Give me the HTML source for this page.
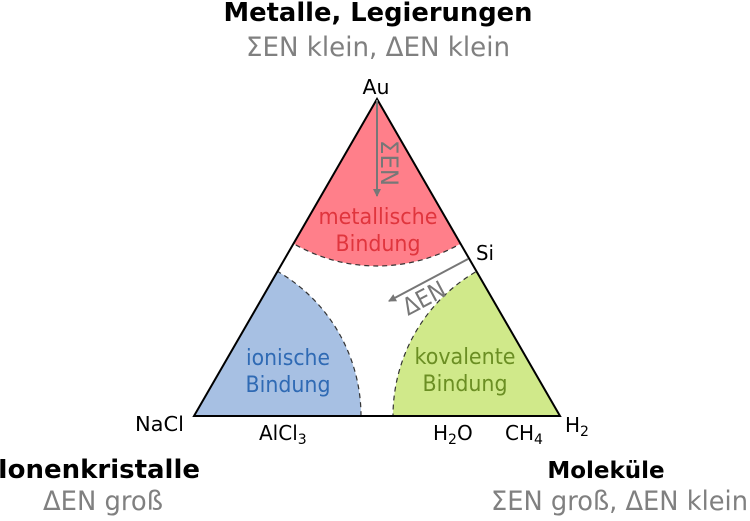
<!DOCTYPE html>
<html><head><style>html,body{margin:0;padding:0;background:#fff;overflow:hidden;width:750px;height:521px}svg{display:block}</style></head><body>
<svg width="750" height="521" viewBox="0 0 750 521" xmlns="http://www.w3.org/2000/svg" font-family="DejaVu Sans, Liberation Sans, sans-serif">
<defs>
<clipPath id="tri"><polygon points="377,99 194,416 560,416"/></clipPath>
<marker id="ah" markerWidth="8" markerHeight="8" refX="7" refY="4" orient="auto" markerUnits="userSpaceOnUse"><path d="M0,0 L8,4 L0,8 Z" fill="#777"/></marker>
</defs>
<g clip-path="url(#tri)">
<circle cx="377" cy="99" r="167" fill="#ff7f8a"/>
<circle cx="194" cy="416" r="167" fill="#a7c0e3"/>
<circle cx="560" cy="416" r="167" fill="#d0e98a"/>
<circle cx="377" cy="99" r="167" fill="none" stroke="#333" stroke-width="1.2" stroke-dasharray="5,4"/>
<circle cx="194" cy="416" r="167" fill="none" stroke="#333" stroke-width="1.2" stroke-dasharray="5,4"/>
<circle cx="560" cy="416" r="167" fill="none" stroke="#333" stroke-width="1.2" stroke-dasharray="5,4"/>
</g>
<polygon points="377,99 194,416 560,416" fill="none" stroke="#000" stroke-width="2"/>
<line x1="377" y1="100" x2="377" y2="196" stroke="#777" stroke-width="2" marker-end="url(#ah)"/>
<text transform="translate(381,140) rotate(90)" font-size="24" fill="#777" textLength="46" lengthAdjust="spacingAndGlyphs">ΣEN</text>
<line x1="468" y1="259" x2="389" y2="301" stroke="#777" stroke-width="2" marker-end="url(#ah)"/>
<text transform="translate(408,316) rotate(-28)" font-size="24" fill="#777" textLength="45" lengthAdjust="spacingAndGlyphs">ΔEN</text>
<text x="378" y="224" font-size="22" fill="#e0353d" text-anchor="middle" textLength="119" lengthAdjust="spacingAndGlyphs">metallische</text>
<text x="378" y="251" font-size="22" fill="#e0353d" text-anchor="middle" textLength="85" lengthAdjust="spacingAndGlyphs">Bindung</text>
<text x="288" y="365" font-size="22" fill="#2f6ab4" text-anchor="middle" textLength="84" lengthAdjust="spacingAndGlyphs">ionische</text>
<text x="288" y="392" font-size="22" fill="#2f6ab4" text-anchor="middle" textLength="85" lengthAdjust="spacingAndGlyphs">Bindung</text>
<text x="465" y="364" font-size="22" fill="#6b8e23" text-anchor="middle" textLength="101" lengthAdjust="spacingAndGlyphs">kovalente</text>
<text x="465" y="391" font-size="22" fill="#6b8e23" text-anchor="middle" textLength="85" lengthAdjust="spacingAndGlyphs">Bindung</text>
<text x="376" y="94" font-size="20" text-anchor="middle" textLength="27" lengthAdjust="spacingAndGlyphs">Au</text>
<text x="476" y="260" font-size="20" textLength="18" lengthAdjust="spacingAndGlyphs">Si</text>
<text x="135" y="431" font-size="20" textLength="49" lengthAdjust="spacingAndGlyphs">NaCl</text>
<text x="565" y="432" font-size="20">H<tspan font-size="14" dy="4">2</tspan></text>
<text x="259" y="440" font-size="20">AlCl<tspan font-size="14" dy="4">3</tspan></text>
<text x="433" y="440" font-size="20">H<tspan font-size="14" dy="4">2</tspan><tspan dy="-4">O</tspan></text>
<text x="505" y="440" font-size="20">CH<tspan font-size="14" dy="4">4</tspan></text>
<text x="378" y="21" font-size="26" font-weight="bold" text-anchor="middle" textLength="309" lengthAdjust="spacingAndGlyphs">Metalle, Legierungen</text>
<text x="378" y="56" font-size="27" fill="#808080" text-anchor="middle" textLength="264" lengthAdjust="spacingAndGlyphs">ΣEN klein, ΔEN klein</text>
<text x="-2" y="478" font-size="26" font-weight="bold" textLength="202" lengthAdjust="spacingAndGlyphs">Ionenkristalle</text>
<text x="43" y="510" font-size="27" fill="#808080" textLength="120" lengthAdjust="spacingAndGlyphs">ΔEN groß</text>
<text x="606" y="478" font-size="23" font-weight="bold" text-anchor="middle">Moleküle</text>
<text x="491" y="510" font-size="27" fill="#808080" textLength="257" lengthAdjust="spacingAndGlyphs">ΣEN groß, ΔEN klein</text>
</svg>
</body></html>
